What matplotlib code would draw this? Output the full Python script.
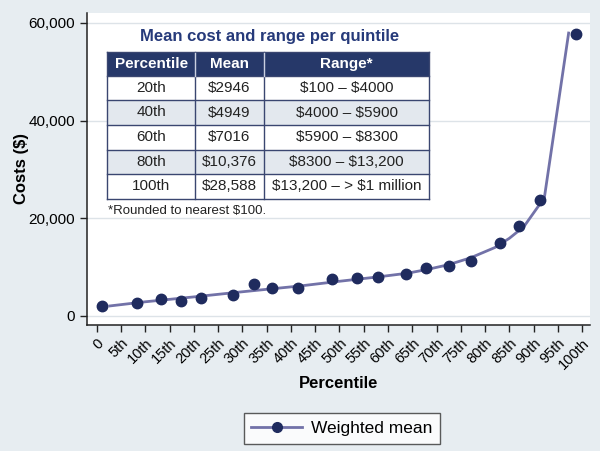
import matplotlib
matplotlib.use("Agg")
import matplotlib.pyplot as plt
from matplotlib.lines import Line2D
from matplotlib.patches import Rectangle

plt.rcParams['font.family'] = ['Liberation Sans', 'DejaVu Sans']
plt.rcParams['text.parse_math'] = False

# ---- data ----
point_pct = [1.0, 8.4, 13.3, 17.3, 21.4, 28.1, 32.4, 36.2, 41.4, 48.5,
             53.6, 57.9, 63.8, 67.9, 72.5, 77.1, 83.0, 86.9, 91.2, 98.8]
point_cost = [1990, 2660, 3550, 3070, 3620, 4370, 6480, 5660, 5660, 7500,
              7780, 7980, 8600, 9830, 10170, 11320, 14940, 18420, 23750, 57720]

line_pct = [2.7, 10, 20, 30, 42, 50, 58, 64, 68, 72.5, 77, 82, 85, 88, 92.2, 97.2]
line_cost = [2050, 2900, 3900, 4950, 6150, 7100, 8000, 8750, 9500, 10500,
             11900, 14000, 15900, 18300, 24200, 57900]

xtick_vals = list(range(0, 101, 5))
xtick_labels = ['0'] + [f'{v}th' for v in range(5, 101, 5)]
ytick_vals = [0, 20000, 40000, 60000]

table_title = 'Mean cost and range per quintile'
table_header = ['Percentile', 'Mean', 'Range*']
table_pct = ['20th', '40th', '60th', '80th', '100th']
table_mean = ['$2946', '$4949', '$7016', '$10,376', '$28,588']
table_range = ['$100 \u2013 $4000', '$4000 \u2013 $5900', '$5900 \u2013 $8300',
               '$8300 \u2013 $13,200', '$13,200 \u2013 > $1 million']
footnote = '*Rounded to nearest $100.'

# ---- style ----
W, H = 600, 451
bg = '#e7edf1'
navy = '#1f2b5e'
line_col = '#7272a8'
header_bg = '#263869'
alt_bg = '#e3e8ee'
grid_col = '#dde3e8'

fig = plt.figure(figsize=(W / 100, H / 100), dpi=100, facecolor=bg)

def fx(px):
    return px / W

def fy(py):
    return 1 - py / H

ax = fig.add_axes([fx(87), fy(325), fx(590) - fx(87), fy(13) - fy(325)])
ax.set_facecolor('white')
ax.set_xlim(-2, 101.6)
ax.set_ylim(-1850, 62000)

for yv in ytick_vals:
    ax.axhline(yv, color=grid_col, lw=1.0, zorder=0)

ax.plot(line_pct, line_cost, color=line_col, lw=2.0, zorder=2)
ax.plot(point_pct, point_cost, 'o', color=navy, ms=7.5, zorder=3, ls='none')

ax.set_xticks(xtick_vals)
ax.set_xticklabels(xtick_labels, rotation=45, ha='right', rotation_mode='anchor', fontsize=10.5)
ax.set_yticks(ytick_vals)
ax.set_yticklabels([f'{v:,}' for v in ytick_vals], fontsize=11)
ax.tick_params(axis='both', direction='out', length=5, width=1, color='#222222')
ax.tick_params(axis='x', pad=3)
for s in ['top', 'right']:
    ax.spines[s].set_visible(False)
for s in ['left', 'bottom']:
    ax.spines[s].set_color('#222222')
    ax.spines[s].set_linewidth(1.1)

ax.set_xlabel('Percentile', fontsize=12, fontweight='bold', labelpad=3)
ax.set_ylabel('Costs ($)', fontsize=12, fontweight='bold', labelpad=0)

# legend
handle = Line2D([], [], color=line_col, lw=2.0, marker='o', markerfacecolor=navy,
                markeredgecolor=navy, ms=7)
leg = fig.legend([handle], ['Weighted mean'], loc='center',
                 bbox_to_anchor=(fx(341.7), fy(428.3)), fontsize=12.5, frameon=True,
                 fancybox=False, edgecolor='#333333', handlelength=2.9,
                 borderpad=0.45, handletextpad=0.5)
leg.get_frame().set_linewidth(1.0)

# ---- table ----
tx0, tx1 = 107.3, 429.3
col_edges = [107.3, 195.0, 264.0, 429.3]
row_edges = [52.3, 75.8, 100.0, 125.0, 149.7, 174.0, 199.0]
line_c = '#3a4670'

fig.text(fx(269.5), fy(36.5), table_title, ha='center', va='center', fontsize=12,
         fontweight='bold', color='#263a7a')

def rect(x0, y0, x1, y1, fc, ec='none', lw=0):
    r = Rectangle((fx(x0), fy(y1)), fx(x1) - fx(x0), fy(y0) - fy(y1),
                  transform=fig.transFigure, facecolor=fc, edgecolor=ec, lw=lw, zorder=5)
    fig.add_artist(r)

rect(tx0, row_edges[0], tx1, row_edges[1], header_bg)
for i in range(5):
    fc = 'white' if i % 2 == 0 else alt_bg
    rect(tx0, row_edges[i + 1], tx1, row_edges[i + 2], fc)

for yv in row_edges:
    fig.add_artist(Line2D([fx(tx0), fx(tx1)], [fy(yv), fy(yv)], transform=fig.transFigure,
                          color=line_c, lw=1.0, zorder=6))
for xv in col_edges:
    fig.add_artist(Line2D([fx(xv), fx(xv)], [fy(row_edges[0]), fy(row_edges[-1])],
                          transform=fig.transFigure, color=line_c, lw=1.0, zorder=6))
for xv in col_edges[1:-1]:
    fig.add_artist(Line2D([fx(xv), fx(xv)], [fy(row_edges[0] + 1), fy(row_edges[1])],
                          transform=fig.transFigure, color='#c9cfe0', lw=1.0, zorder=6))

centers_x = [(col_edges[i] + col_edges[i + 1]) / 2 for i in range(3)]
hy = (row_edges[0] + row_edges[1]) / 2
for cx, txt in zip(centers_x, table_header):
    fig.text(fx(cx), fy(hy), txt, ha='center', va='center', fontsize=11,
             fontweight='bold', color='white', zorder=7)

columns = [table_pct, table_mean, table_range]
for r in range(5):
    cy = (row_edges[r + 1] + row_edges[r + 2]) / 2
    for c in range(3):
        fig.text(fx(centers_x[c]), fy(cy), columns[c][r], ha='center', va='center',
                 fontsize=11, color='#222222', zorder=7)

fig.text(fx(107.5), fy(211), footnote, ha='left', va='center', fontsize=9.5,
         color='#222222')

fig.savefig('out.png', dpi=100, facecolor=bg)
